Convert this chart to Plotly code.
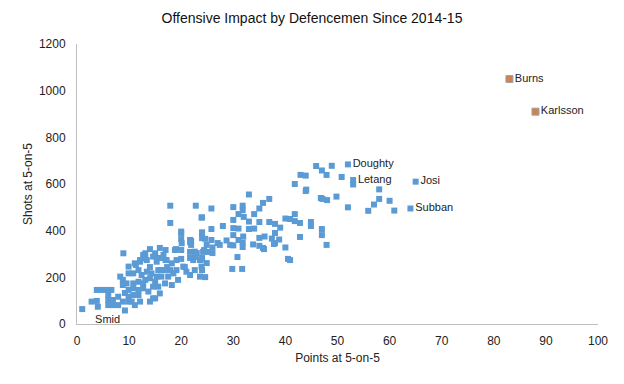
import plotly.graph_objects as go

# Unlabelled defencemen: points and shots at 5-on-5
points = [1, 2.8, 3.8, 4, 3.8, 4.7, 5.7, 6.6, 6, 6, 6, 6.9, 6.9, 7.9, 7.9, 8.8, 9.2, 9.9, 9.9, 9.9,
          8.8, 8.8, 10.8, 10.8, 10.8, 11.8, 11.8, 12.7, 12.7, 13.7, 14.6, 14.6, 15.6, 9.9, 10.8, 11.8,
          12.4, 13.4, 14.3, 15.3, 16.2, 17.5, 18.5, 16.9, 15.6, 11.1, 12.1, 13.1, 13.1, 14.6, 15.3,
          16.6, 17.2, 18.2, 19.1, 20.4, 21, 21.7, 22.6, 23.6, 23.9, 18.8, 20.1, 20, 21.7, 22.6, 22.3,
          8.9, 15, 13.4, 9.9, 8.3, 9.5, 11.8, 13.1, 14, 15, 16.9, 18.2, 19.4, 15.9, 15, 14, 16.2,
          17.9, 19.1, 12.1, 10.5, 11.1,
          17.9, 22.8, 17.9, 23.9, 20, 20, 21.9, 21.9, 24, 24, 14, 15.9, 17, 19, 12.7, 15, 12.1, 11.3,
          16, 17, 20, 23, 20.7, 17.3, 14, 23.6,
          33, 36.9, 35.7, 25.8, 30, 31.8, 31.8, 35, 34, 31, 32, 24, 30, 33, 35, 36.9, 38, 40, 39, 38,
          28, 25.8, 24, 30, 31, 33, 34, 31.9, 30, 35, 36, 37.4, 38.8, 40, 21.7, 24.6, 25.8, 27, 28.7,
          31, 31.8, 29.4, 24.9, 26, 27.4, 33.8, 35, 35.9, 37.8, 21.7, 22.8, 24.2, 25.1, 30, 31.8, 30.8,
          21.7, 24, 24.9, 29.8, 31.7, 40.5, 20, 43.9, 46.8, 48, 41.8, 40.9, 42.8, 44.9, 44.9, 47, 47,
          42.8, 38, 47.9, 24.4, 26, 35.7, 40.9, 24, 24, 24.6,
          45.9, 47, 47.9, 48.9, 42.9, 43.9, 50.8, 53, 41.8, 44, 58, 58, 57, 55.9, 60, 60.9, 47.1,
          49.8, 52, 41.8]
shots = [64, 96, 99, 74, 146, 146, 146, 146, 124, 103, 81, 103, 81, 117, 81, 96, 133, 146, 117, 96,
         167, 189, 174, 153, 124, 146, 124, 153, 174, 139, 160, 110, 160, 217, 217, 231,
         210, 224, 217, 203, 203, 203, 217, 231, 231, 260, 267, 281, 303, 289, 267,
         296, 274, 260, 274, 246, 224, 210, 231, 203, 246, 317, 346, 389, 360, 310, 274,
         303, 303, 274, 246, 203, 174, 181, 189, 196, 181, 174, 167, 189, 131, 110, 96, 231,
         231, 231, 96, 96, 81,
         507, 507, 433, 456, 396, 364, 356, 339, 390, 368, 321, 326, 317, 321, 296, 291, 274, 253,
         283, 274, 279, 304, 244, 244, 244, 274,
         555, 536, 519, 495, 501, 507, 488, 495, 471, 471, 459, 457, 446, 439, 437, 437, 429, 452, 413, 390,
         420, 407, 393, 411, 409, 407, 409, 375, 381, 369, 375, 366, 362, 328, 351, 365, 360, 347, 358,
         360, 349, 339, 339, 328, 339, 341, 335, 321, 343, 309, 287, 309, 309, 337, 330, 287,
         283, 276, 261, 236, 236, 279, 317, 570, 540, 531, 471, 450, 433, 437, 420, 407, 381,
         373, 347, 339, 317, 304, 326, 274, 283, 231, 201,
         677, 658, 639, 678, 639, 636, 630, 598, 600, 576, 577, 536, 512, 485, 528, 486, 536,
         546, 500, 441]

# Labelled blue players
named_players = ["Doughty", "Letang", "Josi", "Subban"]
named_points = [52, 53, 65, 64]
named_shots = [684, 617, 610, 495]

smid_name = ["Smid"]
smid_points = [9.2]
smid_shots = [58]

# Highlighted players
star_players = ["Burns", "Karlsson"]
star_points = [83, 88]
star_shots = [1050, 910]

BLUE = "#5B9BD5"
FONT = "Liberation Sans, Arial, sans-serif"
MS = 6

fig = go.Figure()
fig.add_trace(go.Scatter(x=points, y=shots, mode="markers",
                         marker=dict(symbol="square", size=MS, color=BLUE, line=dict(width=0)),
                         hoverinfo="x+y", showlegend=False))
fig.add_trace(go.Scatter(x=named_points, y=named_shots, mode="markers+text", text=named_players,
                         textposition="middle right",
                         textfont=dict(family=FONT, size=11, color="#222"),
                         marker=dict(symbol="square", size=MS, color=BLUE, line=dict(width=0)),
                         showlegend=False))
fig.add_trace(go.Scatter(x=smid_points, y=smid_shots, mode="markers+text", text=smid_name,
                         textposition="bottom left",
                         textfont=dict(family=FONT, size=11, color="#222"),
                         marker=dict(symbol="square", size=MS, color=BLUE, line=dict(width=0)),
                         showlegend=False))
fig.add_trace(go.Scatter(x=star_points, y=star_shots, mode="markers+text", text=star_players,
                         textposition="middle right",
                         textfont=dict(family=FONT, size=11, color="#222"),
                         marker=dict(symbol="square", size=7, color="#D08350",
                                     line=dict(width=1, color="#A0A0A0")),
                         showlegend=False))

fig.update_layout(
    width=624, height=384,
    margin=dict(l=77, r=26, t=44, b=60),
    paper_bgcolor="white", plot_bgcolor="white",
    font=dict(family=FONT, size=12, color="#222"),
    title=dict(text="Offensive Impact by Defencemen Since 2014-15", x=0.5, xanchor="center",
               y=1 - 18 / 384, yanchor="middle", font=dict(family=FONT, size=14, color="#111")),
    xaxis=dict(range=[0, 100], dtick=10, showgrid=False, zeroline=False, automargin=False,
               showline=True, linecolor="#BFBFBF", linewidth=1, ticks="",
               tickfont=dict(family=FONT, size=12, color="#222"), ticklabelstandoff=6,
               title=dict(text="Points at 5-on-5", font=dict(family=FONT, size=12, color="#222"),
                          standoff=6)),
    yaxis=dict(range=[0, 1200], dtick=200, showgrid=False, zeroline=False, automargin=False,
               showline=True, linecolor="#BFBFBF", linewidth=1, ticks="",
               tickfont=dict(family=FONT, size=12, color="#222"), ticklabelstandoff=8,
               title=dict(text="Shots at 5-on-5", font=dict(family=FONT, size=12, color="#222"),
                          standoff=3)),
)

fig.write_html("out.html", config={"displayModeBar": False},
               post_script="document.body.style.margin='0';")
